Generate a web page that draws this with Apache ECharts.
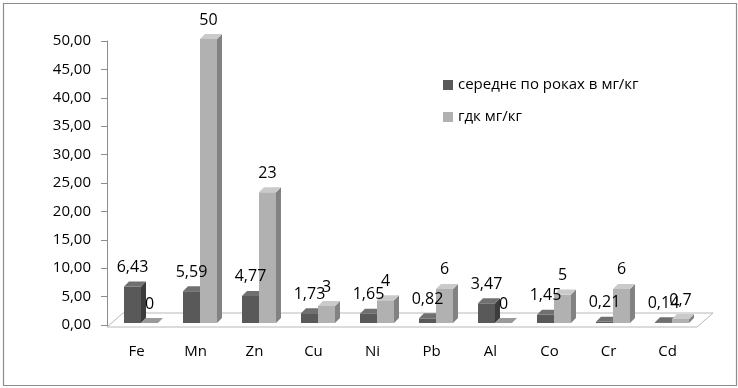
<!DOCTYPE html>
<html><head><meta charset="utf-8">
<script src="https://cdn.jsdelivr.net/npm/echarts@6/dist/echarts.min.js"></script>
<style>html,body{margin:0;padding:0;background:#fff}#c{width:738px;height:388px}</style>
</head><body><div id="c"></div>
<script>
const categories = ['Fe','Mn','Zn','Cu','Ni','Pb','Al','Co','Cr','Cd'];
const averageValues = [6.43,5.59,4.77,1.73,1.65,0.82,3.47,1.45,0.21,0.14];
const limitValues = [0,50,23,3,4,6,0,5,6,0.7];
const seriesNames = ['середнє по роках в мг/кг','гдк мг/кг'];
const yMin = 0, yMax = 50, yStep = 5;

const FONT = '"Open Sans", "DejaVu Sans", sans-serif';
const fmtVal = v => String(v).replace('.', ',');
const fmtTick = v => v.toFixed(2).replace('.', ',');

const palette = [
  {front:'#595959', side:'#3c3c3c', top:'#707070'},
  {front:'#b1b1b1', side:'#828282', top:'#cacaca'}
];

function makeRender(which){
  const colors = palette[which];
  return function(params, api){
    const idx = api.value(0);
    const val = api.value(1);
    const base = api.coord([idx, 0]);
    const top = api.coord([idx, val]);
    const cw = api.size([1, 0])[0];
    const w = cw * 0.288;
    const shift = 4.5, d = 5, lift = 2;
    const cx = base[0] + shift;
    const x0 = which === 0 ? cx - w : cx;
    const x1 = x0 + w;
    const yb = base[1] - lift;
    const yt = top[1] - lift;
    const children = [];
    if (yb - yt > 0.5) {
      children.push({type:'rect', shape:{x:x0, y:yt, width:w, height:yb-yt}, style:{fill:colors.front}});
      children.push({type:'polygon', shape:{points:[[x1,yt],[x1+d,yt-d],[x1+d,yb-d],[x1,yb]]}, style:{fill:colors.side}});
      children.push({type:'polygon', shape:{points:[[x0,yt],[x1,yt],[x1+d,yt-d],[x0+d,yt-d]]}, style:{fill:colors.top}});
    } else {
      children.push({type:'polygon', shape:{points:[[x0,yt],[x1,yt],[x1+d,yt-d],[x0+d,yt-d]]}, style:{fill:'#9a9a9a'}});
    }
    children.push({type:'text', z2:100, style:{text:fmtVal(val), x:(x0+x1)/2, y:yt-19, align:'center', verticalAlign:'middle', fontSize:16, fontFamily:FONT, fill:'#000'}});
    return {type:'group', children};
  };
}

function renderFloor(params, api){
  const n = categories.length;
  const cw = api.size([1, 0])[0];
  const p0 = api.coord([0, 0]);
  const left = p0[0] - cw/2, right = left + cw*n;
  const y = p0[1] + 2;
  const dx = 16, dy = 14;
  return {type:'polygon', shape:{points:[[left,y],[right,y],[right+dx,y-dy],[left+dx,y-dy]]},
    style:{fill:'#ffffff', stroke:'#b8b8b8', lineWidth:1}};
}

const chart = echarts.init(document.getElementById('c'), null, {renderer:'canvas'});
chart.setOption({
  animation:false,
  backgroundColor:'#ffffff',
  graphic:[{type:'rect', shape:{x:3.5, y:3.5, width:733, height:382}, style:{fill:'none', stroke:'#8c8c8c', lineWidth:1.2}, silent:true}],
  legend:{
    data:seriesNames, orient:'vertical', left:438, top:72, itemWidth:10, itemHeight:10, itemGap:16, icon:'rect',
    textStyle:{fontFamily:FONT, fontSize:15, color:'#000', lineHeight:16}
  },
  grid:{left:107, top:41, width:590, height:284},
  xAxis:{
    type:'category', data:categories, offset:2,
    axisLine:{lineStyle:{color:'#8c8c8c'}},
    axisTick:{length:6, lineStyle:{color:'#8c8c8c'}},
    axisLabel:{fontFamily:FONT, fontSize:15, color:'#000', margin:17}
  },
  yAxis:{
    type:'value', min:yMin, max:yMax, interval:yStep,
    axisLine:{show:true, lineStyle:{color:'#8c8c8c'}},
    axisTick:{show:true, length:6, lineStyle:{color:'#8c8c8c'}},
    splitLine:{show:false},
    axisLabel:{fontFamily:FONT, fontSize:15, color:'#000', margin:16, formatter:fmtTick}
  },
  series:[
    {type:'custom', name:'floor', z:1, renderItem:renderFloor, data:[[0,0]], encode:{x:0,y:1}, silent:true},
    {type:'custom', name:seriesNames[0], z:2, itemStyle:{color:palette[0].front}, renderItem:makeRender(0),
      data:categories.map((c,i)=>[i, averageValues[i]]), encode:{x:0,y:1}},
    {type:'custom', name:seriesNames[1], z:2, itemStyle:{color:palette[1].front}, renderItem:makeRender(1),
      data:categories.map((c,i)=>[i, limitValues[i]]), encode:{x:0,y:1}}
  ]
});
</script></body></html>
